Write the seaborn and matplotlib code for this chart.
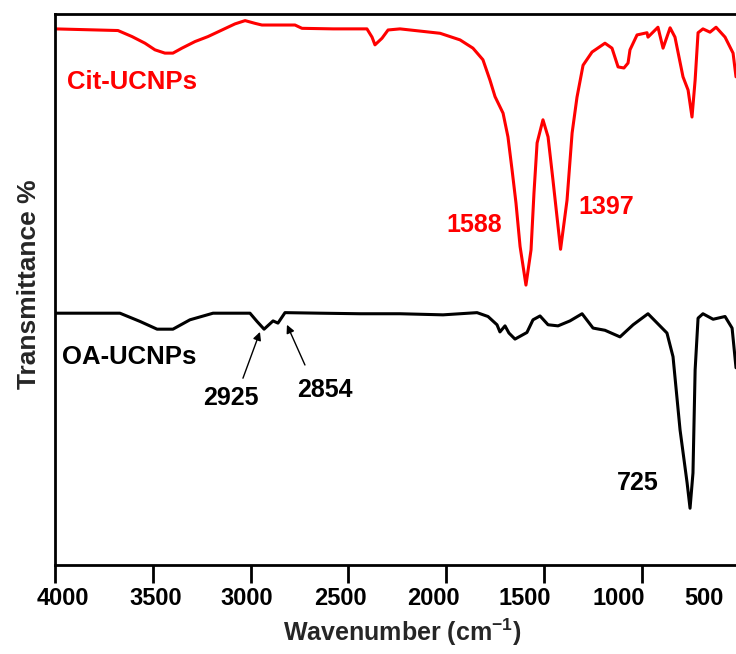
import matplotlib
matplotlib.use("Agg")
import matplotlib.pyplot as plt
import numpy as np
import pandas as pd
import seaborn as sns

# ---------------- data ----------------
series_names = ["Cit-UCNPs", "OA-UCNPs"]

cit_wavenumber = [4000, 3678, 3606, 3540, 3489, 3438, 3397, 3351, 3284, 3218,
                  3146, 3080, 3028, 2977, 2942, 2773, 2737, 2578, 2405, 2379,
                  2364, 2328, 2297, 2236, 2031, 1929, 1863, 1812, 1776, 1750,
                  1709, 1684, 1663, 1643, 1622, 1592, 1566, 1551, 1535, 1505,
                  1479, 1454, 1415, 1382, 1356, 1331, 1300, 1254, 1188,
                  1152, 1121, 1091, 1070, 1060, 1024, 973, 968, 917, 891,
                  855, 830, 789, 763, 743, 727, 712, 687, 651, 620,
                  574, 533, 518]
cit_transmittance = [97.3, 97.0, 95.9, 94.7, 93.5, 92.9, 92.9, 93.8, 95.0, 95.9,
                     97.1, 98.2, 98.8, 98.3, 98.0, 98.0, 97.4, 97.3, 97.3, 95.8,
                     94.4, 95.6, 97.1, 97.3, 96.5, 95.3, 93.8, 91.7, 88.0, 85.0,
                     82.0, 77.7, 71.7, 65.7, 57.8, 50.8, 57.2, 67.5, 76.6, 80.8,
                     77.7, 69.9, 57.3, 66.2, 78.4, 84.9, 90.7, 93.1, 94.7,
                     93.8, 90.4, 90.2, 91.1, 93.5, 96.2, 96.6, 95.8, 97.6, 93.8,
                     97.5, 95.8, 88.6, 86.2, 81.3, 88.0, 96.6, 97.3, 96.7, 97.6,
                     95.8, 92.9, 88.6]

oa_wavenumber = [4000, 3770, 3668, 3565, 3478, 3397, 3310, 3192, 3003, 2967,
                 2931, 2885, 2860, 2824, 2645, 2440, 2236, 2016, 1842, 1786,
                 1740, 1725, 1699, 1679, 1648, 1587, 1556, 1520, 1479, 1428,
                 1367, 1305, 1249, 1188, 1111, 1044, 968, 871, 840, 804,
                 768, 753, 738, 727, 712, 687, 635, 574, 538, 518]
oa_transmittance = [45.7, 45.7, 45.7, 44.2, 42.8, 42.8, 44.5, 45.7, 45.7, 44.2,
                    42.8, 44.3, 43.9, 45.8, 45.7, 45.6, 45.6, 45.4, 45.8, 45.1,
                    43.6, 42.3, 43.4, 42.1, 41.0, 42.2, 44.5, 45.2, 43.6, 43.4,
                    44.3, 45.6, 43.0, 42.6, 41.4, 43.6, 45.6, 42.1, 37.8, 24.5,
                    14.9, 10.3, 16.7, 35.4, 44.8, 45.6, 44.6, 45.1, 43.0, 35.8]

tick_values = [4000, 3500, 3000, 2500, 2000, 1500, 1000]
tick_labels = ["4000", "3500", "3000", "2500", "2000", "1500", "1000", "500"]

cit_peak_labels = ["1588", "1397"]
oa_peak_labels = ["2925", "2854", "725"]

# ---------------- layout / style (positions, not data) ----------------
tick_label_positions = [3962, 3486, 3018, 2539, 2065, 1598, 1120, 680]
cit_peak_text_xy = [(1858, 61.7), (1183, 65.0)]
oa_peak_text_xy = [(3100, 30.3), (2619, 31.8), (1019, 14.9)]
arrow_heads = [(2952, 42.3), (2814, 43.6)]
arrow_tails = [(3039, 33.9), (2722, 36.3)]

sns.set_style("ticks")
plt.rcParams['font.family'] = ['Liberation Sans', 'DejaVu Sans']
plt.rcParams['font.weight'] = 'bold'
plt.rcParams['mathtext.fontset'] = 'custom'
plt.rcParams['mathtext.bf'] = 'Liberation Sans:bold'
plt.rcParams['mathtext.rm'] = 'Liberation Sans:bold'
plt.rcParams['mathtext.default'] = 'bf'

df = pd.concat([
    pd.DataFrame({"wavenumber": cit_wavenumber, "transmittance": cit_transmittance,
                  "sample": series_names[0]}),
    pd.DataFrame({"wavenumber": oa_wavenumber, "transmittance": oa_transmittance,
                  "sample": series_names[1]}),
], ignore_index=True)

fig = plt.figure(figsize=(7.36, 6.54), dpi=100)
ax = fig.add_axes([55 / 736, 89 / 654, 681 / 736, 551 / 654])

red = "#ff0000"
sns.lineplot(data=df, x="wavenumber", y="transmittance", hue="sample",
             palette={series_names[0]: red, series_names[1]: "black"},
             estimator=None, sort=False, linewidth=2.2, legend=False, ax=ax)

ax.set_xlim(4000, 518)
ax.set_ylim(0, 100)
ax.set_yticks([])

ax.set_xticks(tick_values)
ax.set_xticklabels([""] * len(tick_values))
ax.set_xticks(tick_label_positions, minor=True)
ax.set_xticklabels(tick_labels, minor=True)
ax.tick_params(axis='x', which='major', direction='out', length=13, width=2, color='black')
ax.tick_params(axis='x', which='minor', length=0, pad=16, labelsize=17, labelcolor='black')
for lab in ax.get_xticklabels(minor=True):
    lab.set_fontweight('bold')

for side in ["left", "bottom", "top"]:
    ax.spines[side].set_linewidth(2)
    ax.spines[side].set_color("black")
ax.spines["right"].set_visible(False)

ax.set_xlabel("Wavenumber (cm$^{-1}$)", fontsize=18, fontweight='bold')
ax.xaxis.set_label_coords(0.51, -0.094)
ax.set_ylabel("Transmittance %", fontsize=19, fontweight='bold')
ax.yaxis.set_label_coords(-0.02, 0.51)

ax.text(3940, 87.7, series_names[0], color=red, fontsize=18.5, fontweight='bold',
        ha='left', va='center')
ax.text(3966, 37.8, series_names[1], color='black', fontsize=18.5, fontweight='bold',
        ha='left', va='center')

for lab, (tx, ty) in zip(cit_peak_labels, cit_peak_text_xy):
    ax.text(tx, ty, lab, color=red, fontsize=18, fontweight='bold', ha='center', va='center')
for lab, (tx, ty) in zip(oa_peak_labels, oa_peak_text_xy):
    ax.text(tx, ty, lab, color='black', fontsize=18, fontweight='bold', ha='center', va='center')

for head, tail in zip(arrow_heads, arrow_tails):
    ax.annotate("", xy=head, xytext=tail,
                arrowprops=dict(arrowstyle='-|>', color='black', lw=1, mutation_scale=12,
                                shrinkA=0, shrinkB=0))

fig.savefig("out.png", dpi=100)
